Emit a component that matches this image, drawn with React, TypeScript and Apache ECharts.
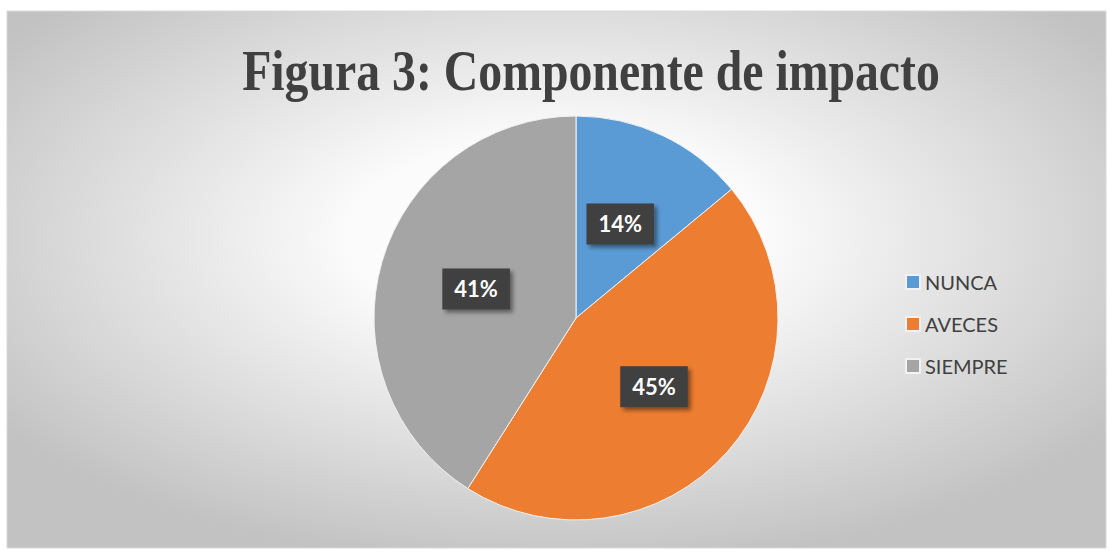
import React, { useEffect, useRef } from "react";
import * as echarts from "echarts";

const categories = ["NUNCA", "AVECES", "SIEMPRE"];
const values = [14, 45, 41];
const colors = ["#5B9BD5", "#ED7D31", "#A5A5A5"];
const titleText = "Figura 3: Componente de impacto";

export default function App() {
  const ref = useRef<HTMLDivElement>(null);
  useEffect(() => {
    document.body.style.margin = "0";
    const chart = echarts.init(ref.current!, null, { renderer: "svg" });
    chart.setOption({
      animation: false,
      graphic: [
        {
          type: "rect",
          z: -10,
          silent: true,
          shape: { x: 7, y: 11, width: 1099, height: 537 },
          style: {
            fill: {
              type: "radial",
              x: 0.5,
              y: 0.42,
              r: 0.62,
              colorStops: [
                { offset: 0, color: "#ffffff" },
                { offset: 0.3, color: "#fbfbfb" },
                { offset: 1, color: "#c2c2c2" },
              ],
            },
            stroke: "#d9d9d9",
            lineWidth: 1,
          },
        },
        {
          type: "text",
          x: 591,
          y: 71,
          scaleX: 0.853,
          z: 10,
          style: {
            text: titleText,
            fill: "#404040",
            font: "bold 56px 'Liberation Serif', 'Times New Roman', serif",
            textAlign: "center",
            textVerticalAlign: "middle",
          },
        },
      ],
      color: colors,
      legend: {
        orient: "vertical",
        left: 905,
        top: 272,
        padding: 0,
        itemWidth: 14,
        itemHeight: 14,
        itemGap: 22,
        icon: "rect",
        textStyle: {
          color: "#404040",
          fontSize: 20,
          lineHeight: 20,
          fontFamily: "Lato, 'Open Sans', sans-serif",
          padding: [0, 0, 0, 0],
        },
        data: categories,
      },
      series: [
        {
          type: "pie",
          center: [576, 318],
          radius: [0, 202],
          startAngle: 90,
          clockwise: true,
          itemStyle: { borderColor: "#f2f2f2", borderWidth: 1 },
          label: {
            show: true,
            position: "inside",
            formatter: (p: any) => Math.round(p.percent) + "%",
            color: "#ffffff",
            fontWeight: "bold",
            fontSize: 22,
            fontFamily: "Lato, 'Open Sans', sans-serif",
            backgroundColor: "#3f3f3f",
            padding: [10, 12, 9, 12],
            shadowColor: "rgba(0,0,0,0.45)",
            shadowBlur: 4,
            shadowOffsetX: 3,
            shadowOffsetY: 3,
          },
          labelLine: { show: false },
          data: categories.map((c, i) => ({ name: c, value: values[i] })),
        },
      ],
    });
    return () => chart.dispose();
  }, []);
  return <div ref={ref} style={{ width: 1109, height: 550 }} />;
}
